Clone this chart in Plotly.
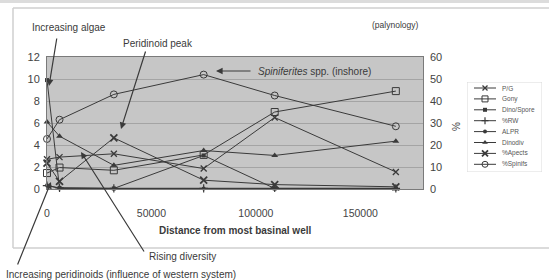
import plotly.graph_objects as go

W, H = 549, 280

# ---- data ----
distance = [0, 6000, 32000, 75000, 109000, 167000]
pg = [2.7, 2.9, 3.2, 1.86, 6.5, 1.55]
gony = [1.45, 1.95, 1.7, 3.1, 7.0, 8.9]
dino_spore = [9.9, 0.1, 0.05, 3.05, 0.05, 0.05]
pct_rw = [1.5, 0.5, 0.3, 0.3, 0.5, 0.3]
alpr = [0.35, 0.05, 0.05, 0.05, 0.05, 0.05]
dinodiv = [6.1, 4.8, 2.15, 3.5, 3.05, 4.35]
pct_apects = [11.75, 3.5, 23.25, 4.0, 2.0, 1.0]
pct_spinifs = [22.75, 31.5, 43.0, 52.0, 42.5, 28.5]

x_ticks = [0, 50000, 100000, 150000]
x_tick_labels = ["0", "50000", "100000", "150000"]
left_ticks = [0, 2, 4, 6, 8, 10, 12]
right_ticks = [0, 10, 20, 30, 40, 50, 60]

series = [
    # name, values, axis, marker symbol, size, marker line width
    ("P/G", pg, "y", "x-thin-open", 6, 1.3),
    ("Gony", gony, "y", "square-open", 7, 1.0),
    ("Dino/Spore", dino_spore, "y", "square", 4, 0),
    ("%RW", pct_rw, "y2", "cross-thin-open", 6, 1.2),
    ("ALPR", alpr, "y", "circle", 4, 0),
    ("Dinodiv", dinodiv, "y", "triangle-up", 6, 0),
    ("%Apects", pct_apects, "y2", "x-thin-open", 7, 1.8),
    ("%Spinifs", pct_spinifs, "y2", "circle-open", 7, 1.0),
]

INK = "#3a3a3a"
FONT = "Arial, Liberation Sans, sans-serif"

def px_x(p):
    return p / W

def px_y(p):
    return 1 - p / H

fig = go.Figure()

for name, vals, ax, sym, sz, lw in series:
    fig.add_trace(go.Scatter(
        x=distance, y=vals, yaxis=ax, name=name, mode="lines+markers",
        line=dict(color=INK, width=1),
        marker=dict(symbol=sym, size=sz, color=INK, line=dict(color=INK, width=lw)),
        cliponaxis=False, showlegend=False,
    ))

# legend drawn in its own small axes
leg_y0 = 88
leg_dy = 10.9
for i, (name, vals, ax, sym, sz, lw) in enumerate(series):
    yy = leg_y0 + leg_dy * i
    fig.add_trace(go.Scatter(x=[474, 496], y=[yy, yy], xaxis="x3", yaxis="y3", mode="lines",
                             line=dict(color=INK, width=1), showlegend=False, hoverinfo="skip"))
    fig.add_trace(go.Scatter(x=[485], y=[yy], xaxis="x3", yaxis="y3", mode="markers",
                             marker=dict(symbol=sym, size=max(sz - 1, 4), color=INK,
                                         line=dict(color=INK, width=lw)),
                             showlegend=False, hoverinfo="skip", cliponaxis=False))

annotations = []
for i, (name, *_rest) in enumerate(series):
    annotations.append(dict(x=500, y=leg_y0 + leg_dy * i, xref="x3", yref="y3", text=name,
                            showarrow=False, xanchor="left", yanchor="middle",
                            font=dict(size=6.5, color="#555", family=FONT)))

def arrow(tail, head):
    return dict(x=px_x(head[0]), y=px_y(head[1]), xref="paper", yref="paper",
                ax=tail[0] - head[0], ay=tail[1] - head[1], text="", showarrow=True,
                arrowhead=2, arrowsize=1.1, arrowwidth=1.2, arrowcolor=INK, standoff=0)

def label(px, py, text, size=10, anchor="center", color=INK, **kw):
    return dict(x=px_x(px), y=px_y(py), xref="paper", yref="paper", text=text, showarrow=False,
                xanchor=anchor, yanchor="middle", font=dict(size=size, color=color, family=FONT), **kw)

annotations += [
    arrow((57, 37), (49, 86)),
    arrow((146, 50), (121, 129)),
    arrow((252, 71), (216, 71)),
    arrow((145, 253), (81, 152)),
    arrow((17, 266), (51, 182)),
    label(30, 28, "Increasing algae", anchor="left"),
    label(121, 43, "Peridinoid peak", anchor="left"),
    label(256, 71, "<i>Spiniferites</i> spp. (inshore)", anchor="left"),
    label(370, 25, "(palynology)", size=8.5, anchor="left"),
    label(147, 256, "Rising diversity", anchor="left"),
    label(4, 274, "Increasing peridinoids (influence of western system)", anchor="left"),
    label(235, 230, "<b>Distance from most basinal well</b>", size=10),
    label(457, 127, "%", size=10, textangle=-90, color="#444"),
]

shapes = [
    dict(type="rect", xref="paper", yref="paper", x0=0, x1=1, y0=px_y(3), y1=1,
         fillcolor="#dcdcdc", line=dict(width=0), layer="below"),
    dict(type="line", xref="paper", yref="paper", x0=px_x(13), x1=1, y0=px_y(8), y1=px_y(8),
         line=dict(color="#cfcfcf", width=1.5)),
    dict(type="line", xref="paper", yref="paper", x0=px_x(13), x1=px_x(13), y0=px_y(8), y1=px_y(248),
         line=dict(color="#cfcfcf", width=1.5)),
    dict(type="line", xref="paper", yref="paper", x0=px_x(13), x1=1, y0=px_y(248), y1=px_y(248),
         line=dict(color="#cfcfcf", width=1.5)),
    dict(type="rect", xref="x3", yref="y3", x0=467, x1=542, y0=82, y1=172,
         fillcolor="white", line=dict(color="#dadada", width=1), layer="below"),
]

fig.update_layout(
    width=W, height=H, margin=dict(l=0, r=0, t=0, b=0, autoexpand=False),
    paper_bgcolor="white", plot_bgcolor="#c6c6c6",
    font=dict(family=FONT, color="#444"),
    xaxis=dict(domain=[px_x(47), px_x(423)], range=[0, 180000], tickvals=x_ticks,
               ticktext=x_tick_labels, showgrid=False, zeroline=False, showline=True,
               linecolor="#7a7a7a", linewidth=1, mirror=True, ticks="", ticklabelstandoff=14,
               tickfont=dict(size=10.5, color="#444"), automargin=False),
    yaxis=dict(domain=[px_y(189), px_y(57)], range=[0, 12], tickvals=left_ticks,
               showgrid=True, gridcolor="#a4a4a4", gridwidth=1, zeroline=False, showline=True,
               linecolor="#7a7a7a", linewidth=1, mirror=True, ticks="", ticklabelstandoff=4,
               tickfont=dict(size=11, color="#444"), automargin=False),
    yaxis2=dict(overlaying="y", side="right", range=[0, 60], tickvals=right_ticks,
                showgrid=False, zeroline=False, showline=False, ticks="", ticklabelstandoff=6,
                tickfont=dict(size=11, color="#444"), automargin=False),
    xaxis3=dict(domain=[px_x(467), px_x(542)], range=[467, 542], visible=False, anchor="y3"),
    yaxis3=dict(domain=[px_y(172), px_y(82)], range=[172, 82], visible=False, anchor="x3"),
    annotations=annotations, shapes=shapes,
)

fig.write_html("out.html", config={"displayModeBar": False},
               post_script="document.body.style.margin='0px';")
